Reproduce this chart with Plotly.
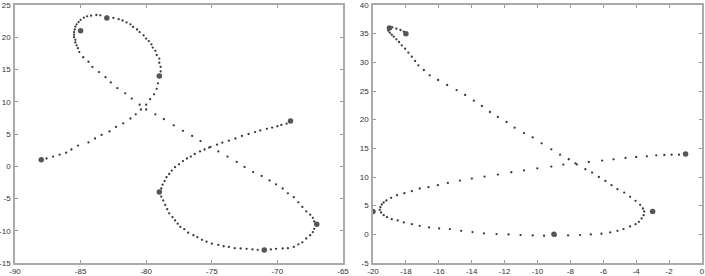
import plotly.graph_objects as go

# ---- Left panel data ----
left_path_x = [-88.0, -87.6, -87.1, -86.6, -86.1, -85.7, -85.2, -84.4, -83.9, -83.4, -82.8, -82.3, -81.75, -81.2,
               -80.8, -80.4, -80.0, -79.7, -79.4, -79.2, -79.1, -79.0, -78.9, -78.9, -79.0, -79.0, -79.2, -79.3,
               -79.5, -79.6, -79.8, -80.0, -80.2, -80.5, -80.7, -81.0, -81.2, -81.5, -81.8, -82.1, -82.5, -83.0,
               -83.5, -83.8, -84.2, -84.5, -84.75, -85.0, -85.15, -85.3, -85.4, -85.45, -85.5, -85.5, -85.5, -85.4,
               -85.4, -85.3, -85.2, -85.1, -84.8, -84.4, -84.1, -83.6, -83.1, -82.7, -82.2, -81.6, -81.1, -80.5,
               -80.0, -79.3, -78.65, -77.9, -77.2, -76.5, -75.86, -75.1, -74.5, -73.8, -73.1, -72.5, -71.85, -71.2,
               -70.6, -70.1, -69.6, -69.2, -68.75, -68.4, -68.1, -67.8, -67.5, -67.3, -67.2, -67.0, -67.2, -67.3,
               -67.5, -67.8, -68.1, -68.4, -68.75, -69.2, -69.6, -70.1, -70.5, -71.0, -71.5, -71.9, -72.35, -72.8,
               -73.25, -73.7, -74.1, -74.5, -75.0, -75.4, -75.75, -76.1, -76.4, -76.8, -77.1, -77.4, -77.6, -77.8,
               -78.0, -78.25, -78.4, -78.55, -78.7, -78.85, -79.0, -78.85, -78.75, -78.6, -78.45, -78.25, -78.05,
               -77.8, -77.5, -77.2, -76.9, -76.6, -76.3, -75.9, -75.55, -75.2, -74.6, -74.2, -73.7, -73.2, -72.7,
               -72.2, -71.7, -71.3, -70.8, -70.4, -70.0, -69.7, -69.3, -69.0]
left_path_y = [1.0, 1.2, 1.5, 1.8, 2.1, 2.6, 3.2, 3.7, 4.3, 4.85, 5.4, 6.1, 6.65, 7.4,
               8.05, 8.8, 9.55, 10.4, 11.15, 12.0, 12.85, 14.0, 14.7, 15.4, 16.05, 16.7, 17.25, 17.9,
               18.4, 18.9, 19.4, 19.8, 20.3, 20.8, 21.2, 21.6, 22.0, 22.3, 22.6, 22.8, 23.0, 23.2,
               23.4, 23.45, 23.35, 23.25, 23.05, 22.7, 22.35, 22.0, 21.65, 21.2, 20.8, 20.4, 20.0, 19.6,
               19.2, 18.75, 18.3, 17.7, 16.9, 16.2, 15.4, 14.6, 13.8, 13.0, 12.1, 11.3, 10.5, 9.55,
               8.8, 8.05, 7.3, 6.35, 5.5, 4.7, 3.9, 3.0, 2.3, 1.5, 0.67, -0.1, -0.9, -1.5,
               -2.2, -2.8, -3.45, -4.2, -4.8, -5.6, -6.3, -7.0, -7.5, -8.0, -8.55, -9.0, -9.7, -10.2,
               -10.7, -11.2, -11.8, -12.1, -12.5, -12.7, -12.75, -12.8, -12.9, -13.0, -12.95, -12.9, -12.8, -12.75,
               -12.7, -12.5, -12.4, -12.2, -12.0, -11.7, -11.4, -11.0, -10.7, -10.3, -9.75, -9.4, -8.9, -8.4,
               -7.9, -7.3, -6.65, -6.0, -5.3, -4.7, -4.0, -3.45, -2.85, -2.3, -1.7, -1.2, -0.67,
               -0.15, 0.3, 0.8, 1.2, 1.5, 1.9, 2.3, 2.6, 2.9, 3.35, 3.65, 3.97, 4.3, 4.7,
               5.0, 5.3, 5.55, 5.8, 6.0, 6.2, 6.4, 6.6, 7.0]
left_way_x = [-88, -79, -83, -85, -67, -71, -79, -69]
left_way_y = [1, 14, 23, 21, -9, -13, -4, 7]
left_xticks = [-90, -85, -80, -75, -70, -65]
left_yticks = [-15, -10, -5, 0, 5, 10, 15, 20, 25]

# ---- Right panel data ----
right_path_x = [-18.0, -18.13, -18.33, -18.58, -18.82, -19.07, -19.07, -18.98, -18.86, -18.74, -18.58, -18.42,
                -18.25, -18.05, -17.85, -17.64, -17.44, -17.24, -16.91, -16.55, -16.04, -15.49, -14.92, -14.4,
                -13.87, -13.38, -12.89, -12.41, -11.88, -11.39, -10.82, -10.29, -9.75, -9.16, -8.63, -8.1, -7.61,
                -7.09, -6.68, -6.27, -5.87, -5.5, -5.14, -4.73, -4.37, -4.04, -3.76, -3.59, -3.51, -3.55, -3.67,
                -3.84, -4.04, -4.37, -4.77, -5.14, -5.58, -6.11, -6.76, -7.41, -8.14, -8.9, -9.6, -10.29, -11.03,
                -11.76, -12.49, -13.26, -13.95, -14.64, -15.33, -15.98, -16.59, -17.16, -17.64, -18.13, -18.5,
                -18.86, -19.15, -19.35, -19.51, -19.59, -19.55, -19.47, -19.35, -19.19, -18.9, -18.54, -18.09,
                -17.64, -17.16, -16.63, -16.06, -15.45, -14.72, -13.99, -13.22, -12.41, -11.59, -10.82, -10.01,
                -9.16, -8.43, -7.7, -6.88, -6.07, -5.38, -4.65, -4.0, -3.35, -2.78, -2.29, -1.85, -1.4, -1.0]
right_path_y = [35.0, 35.35, 35.64, 35.87, 36.1, 35.87, 35.52, 35.17, 34.83, 34.48, 34.01, 33.55,
                32.97, 32.38, 31.69, 30.99, 30.23, 29.48, 28.66, 27.73, 26.92, 26.05, 25.17, 24.3,
                23.31, 22.38, 21.34, 20.47, 19.59, 18.6, 17.67, 16.9, 15.87, 14.83, 13.9, 13.1, 12.2,
                11.35, 10.77, 10.0, 9.32, 8.57, 7.87, 7.29, 6.54, 5.84, 5.14, 4.51, 3.99, 3.35, 2.77,
                2.19, 1.78, 1.38, 0.91, 0.62, 0.33, 0.10, -0.01, -0.13, -0.19, -0.2, -0.25, -0.19, -0.13,
                -0.01, 0.04, 0.16, 0.39, 0.62, 0.91, 1.03, 1.2, 1.49, 1.78, 2.07, 2.42,
                2.65, 3.0, 3.35, 3.81, 4.28, 4.74, 5.2, 5.55, 5.9, 6.36, 6.83, 7.17,
                7.52, 7.99, 8.22, 8.57, 8.97, 9.38, 9.72, 10.07, 10.42, 10.83, 11.17, 11.52,
                11.81, 12.16, 12.39, 12.62, 12.86, 13.09, 13.32, 13.49, 13.61, 13.78, 13.84, 13.9, 13.9, 14.0]
right_way_x = [-18, -19, -3, -9, -20, -1]
right_way_y = [35, 36, 4, 0, 4, 14]
right_xticks = [-20, -18, -16, -14, -12, -10, -8, -6, -4, -2, 0]
right_yticks = [-5, 0, 5, 10, 15, 20, 25, 30, 35, 40]

DOT = "#3a3a3a"
WAY = "#555555"

fig = go.Figure()
fig.add_trace(go.Scatter(x=left_path_x, y=left_path_y, mode="markers",
                         marker=dict(size=2.3, color=DOT), xaxis="x", yaxis="y", showlegend=False))
fig.add_trace(go.Scatter(x=left_way_x, y=left_way_y, mode="markers",
                         marker=dict(size=5.5, color=WAY), xaxis="x", yaxis="y", showlegend=False))
fig.add_trace(go.Scatter(x=right_path_x, y=right_path_y, mode="markers",
                         marker=dict(size=2.3, color=DOT), xaxis="x2", yaxis="y2", showlegend=False))
fig.add_trace(go.Scatter(x=right_way_x, y=right_way_y, mode="markers",
                         marker=dict(size=5.5, color=WAY), xaxis="x2", yaxis="y2", showlegend=False))

axis_style = dict(showline=True, mirror="ticks", linecolor="#aaaaaa", linewidth=1.5,
                  ticks="inside", ticklen=3, tickcolor="#999999", tickwidth=1,
                  showgrid=False, zeroline=False, automargin=False,
                  tickfont=dict(family="Liberation Sans, Arial, sans-serif", size=8, color="#333333"))


def labels(vals):
    return [str(v) for v in vals]


W, H = 705, 276
ml, mr, mt, mb = 15, 3, 5, 13
pw = W - ml - mr
d1 = (343 - ml) / pw
d2 = (373 - ml) / pw

fig.update_layout(
    width=W, height=H,
    margin=dict(l=ml, r=mr, t=mt, b=mb),
    paper_bgcolor="white", plot_bgcolor="white",
    xaxis=dict(domain=[0, d1], range=[-90, -65], tickvals=left_xticks, ticktext=labels(left_xticks),
               anchor="y", ticklabelstandoff=0, **axis_style),
    yaxis=dict(domain=[0, 1], range=[-15, 25], tickvals=left_yticks, ticktext=labels(left_yticks),
               anchor="x", ticklabelstandoff=1, **axis_style),
    xaxis2=dict(domain=[d2, 1], range=[-20, 0], tickvals=right_xticks, ticktext=labels(right_xticks),
                anchor="y2", ticklabelstandoff=0, **axis_style),
    yaxis2=dict(domain=[0, 1], range=[-5, 40], tickvals=right_yticks, ticktext=labels(right_yticks),
                anchor="x2", ticklabelstandoff=1, **axis_style),
)

fig.write_html("out.html", config={"displayModeBar": False})

# remove the browser's default page margin so the figure starts at the window's corner
with open("out.html", "r", encoding="utf-8") as f:
    html = f.read()
html = html.replace("<head>", "<head><style>html,body{margin:0;padding:0;overflow:hidden;}</style>", 1)
with open("out.html", "w", encoding="utf-8") as f:
    f.write(html)
